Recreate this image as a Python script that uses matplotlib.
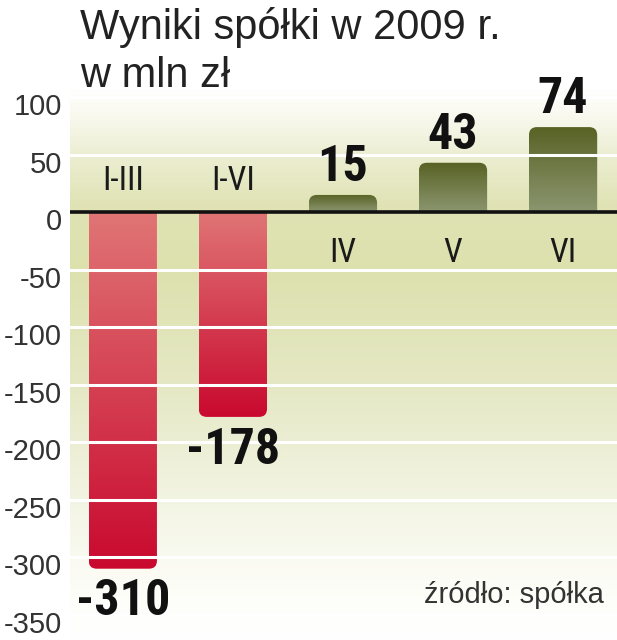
import matplotlib
matplotlib.use("Agg")
import matplotlib.pyplot as plt
import numpy as np
from matplotlib.colors import LinearSegmentedColormap
from matplotlib.patches import FancyBboxPatch
from matplotlib.transforms import ScaledTranslation

# dane
okresy = ["I-III", "I-VI", "IV", "V", "VI"]
wyniki = [-310, -178, 15, 43, 74]
poziomy = list(range(-350, 101, 50))

czerwony = ("#e07575", "#c9092f")
zielony = ("#8c9670", "#586224")
waski = ["Roboto Condensed", "Liberation Sans"]

fig = plt.figure(figsize=(6.17, 6.4), dpi=100)
ax = fig.add_axes([70 / 617, 0, 547 / 617, 552 / 640])
xlim = (-0.48, 4.49)
ylim = (-372, 108)

# tlo - pionowy gradient
tlo_kol = [(0.0, "#ffffff"), (0.09, "#fdfdf8"), (0.26, "#f2f4e2"),
           (0.46, "#e5e8c4"), (0.67, "#dde1ae"), (0.78, "#dfe2b2"),
           (0.88, "#eceed2"), (0.96, "#fafaf2"), (1.0, "#ffffff")]
cm_tlo = LinearSegmentedColormap.from_list("tlo", tlo_kol)
ax.imshow(np.linspace(0, 1, 256).reshape(-1, 1), cmap=cm_tlo, aspect="auto",
          origin="lower", extent=[xlim[0], xlim[1], ylim[0], ylim[1]], zorder=0)

bary = ax.bar(range(len(okresy)), wyniki, width=0.62, color="none", zorder=1)
ax.set_xlim(xlim)
ax.set_ylim(ylim)

bb = ax.get_window_extent()
ux = (xlim[1] - xlim[0]) / bb.width
uy = (ylim[1] - ylim[0]) / bb.height
r = 8 * ux
for rect, v in zip(bary, wyniki):
    x0, w = rect.get_x(), rect.get_width()
    extra = 30 * uy
    if v >= 0:
        kol = zielony
        patch = FancyBboxPatch((x0, -extra), w, v + extra,
                               boxstyle=f"round,pad=0,rounding_size={r}",
                               mutation_aspect=uy / ux, fc="none", ec="none")
    else:
        kol = czerwony
        patch = FancyBboxPatch((x0, v), w, -v + extra,
                               boxstyle=f"round,pad=0,rounding_size={r}",
                               mutation_aspect=uy / ux, fc="none", ec="none")
    ax.add_patch(patch)
    cm = LinearSegmentedColormap.from_list("b", list(kol))
    im = ax.imshow(np.linspace(0, 1, 256).reshape(-1, 1), cmap=cm, aspect="auto",
                   origin="lower", extent=[x0, x0 + w, 0, v], zorder=2,
                   interpolation="bicubic")
    im.set_clip_path(patch)
ax.set_xlim(xlim)
ax.set_ylim(ylim)

for p in poziomy:
    if p != 0:
        ax.axhline(p, color="white", lw=2.2, zorder=3)
ax.axhline(0, color="#111111", lw=2.6, zorder=4)

# etykiety wartosci i okresow
for i, v in enumerate(wyniki):
    if v >= 0:
        ax.annotate(str(v), (i, v), xytext=(0, 10), textcoords="offset points",
                    ha="center", va="baseline", fontsize=36, fontweight="bold",
                    family=waski, color="#111111", zorder=5)
        ax.annotate(okresy[i], (i, 0), xytext=(0, -18), textcoords="offset points",
                    ha="center", va="top", fontsize=24,
                    family=waski, color="#1a1a1a", zorder=5)
    else:
        ax.annotate(str(v), (i, v), xytext=(0, -7), textcoords="offset points",
                    ha="center", va="top", fontsize=36, fontweight="bold",
                    family=waski, color="#111111", zorder=5)
        ax.annotate(okresy[i], (i, 0), xytext=(0, 16), textcoords="offset points",
                    ha="center", va="baseline", fontsize=24,
                    family=waski, color="#1a1a1a", zorder=5)

ax.set_xticks([])
ax.set_yticks(poziomy)
ax.set_yticklabels([str(p) for p in poziomy], fontsize=21, family="Liberation Sans",
                   color="#333333")
ax.tick_params(axis="y", length=0, pad=6)
for lab in ax.get_yticklabels():
    lab.set_transform(lab.get_transform() + ScaledTranslation(0, -5 / 72, fig.dpi_scale_trans))
for s in ax.spines.values():
    s.set_visible(False)

fig.text(80 / 617, 1 - 39 / 640, "Wyniki spółki w 2009 r.", fontsize=30,
         family="Liberation Sans", color="#222222", va="baseline")
fig.text(80 / 617, 1 - 87 / 640, "w mln zł", fontsize=30,
         family="Liberation Sans", color="#222222", va="baseline")
fig.text(604 / 617, 1 - 603 / 640, "źródło: spółka", fontsize=21,
         family="Liberation Sans", color="#333333", ha="right", va="baseline")

fig.savefig("out.png", dpi=100)
